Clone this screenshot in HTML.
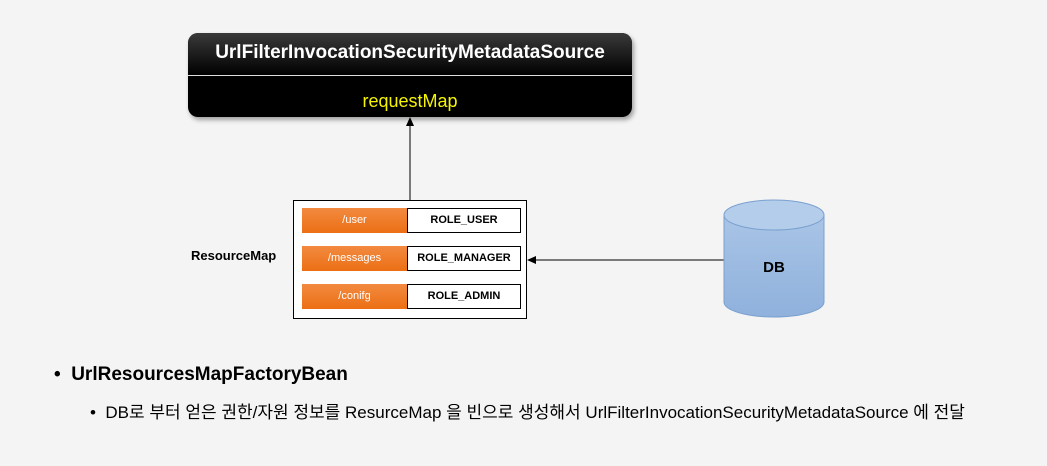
<!DOCTYPE html>
<html><head><meta charset="utf-8"><style>
body{margin:0;width:1047px;height:466px;background:#f4f4f4;position:relative;overflow:hidden;font-family:"Liberation Sans","Noto Sans CJK KR",sans-serif}
.a{position:absolute}
.top{left:188px;top:33px;width:444px;height:84px;border-radius:10px;background:#000;box-shadow:2px 3px 5px rgba(0,0,0,.35);overflow:hidden}
.th{height:42px;background:linear-gradient(#3a3a3a,#000);border-bottom:1px solid #ddd;color:#fff;font-weight:bold;font-size:19px;text-align:center;line-height:40px}
.tb{color:#f5f500;font-size:18px;text-align:center;line-height:50px}
.o{position:absolute;left:302px;width:105px;height:25px;background:linear-gradient(#f28a40,#ec6f14);color:#fff;font-size:11px;text-align:center;line-height:25px}
.w{position:absolute;left:407px;width:112px;height:23px;border:1px solid #000;background:#fff;font-size:11px;font-weight:bold;text-align:center;line-height:23px}
</style></head><body>
<div class="a top"><div class="th">UrlFilterInvocationSecurityMetadataSource</div><div class="tb">requestMap</div></div>
<div class="a" style="left:293px;top:200px;width:232px;height:117px;border:1px solid #000;background:#fff"></div>
<div class="o" style="top:208px">/user</div><div class="w" style="top:208px">ROLE_USER</div>
<div class="o" style="top:246px">/messages</div><div class="w" style="top:246px">ROLE_MANAGER</div>
<div class="o" style="top:284px">/conifg</div><div class="w" style="top:284px">ROLE_ADMIN</div>
<div class="a" style="left:191px;top:248px;font-size:13px;font-weight:bold">ResourceMap</div>
<svg class="a" style="left:0;top:0" width="1047" height="466">
<line x1="410" y1="200" x2="410" y2="125" stroke="#000" stroke-width="1"/>
<polygon points="410,117 406,126 414,126" fill="#000"/>
<line x1="724" y1="260" x2="535" y2="260" stroke="#000" stroke-width="1"/>
<polygon points="527,260 536,256 536,264" fill="#000"/>
<defs><linearGradient id="g" x1="0" y1="0" x2="0" y2="1"><stop offset="0" stop-color="#a9c4e6"/><stop offset="1" stop-color="#8fb1dc"/></linearGradient></defs>
<path d="M724,215 L724,302 A50,15 0 0 0 824,302 L824,215" fill="url(#g)" stroke="#7aa0cf"/>
<ellipse cx="774" cy="215" rx="50" ry="15" fill="#b4cdeb" stroke="#7aa0cf"/>
<text x="774" y="272" font-size="15" font-weight="bold" text-anchor="middle" font-family="Liberation Sans">DB</text>
</svg>
<div class="a" style="left:54px;top:364px;font-size:19px;font-weight:bold">•&nbsp;&nbsp;UrlResourcesMapFactoryBean</div>
<div class="a" style="left:90px;top:398px;font-size:17px;white-space:nowrap">•&nbsp;&nbsp;DB로 부터 얻은 권한/자원 정보를 ResurceMap 을 빈으로 생성해서 UrlFilterInvocationSecurityMetadataSource 에 전달</div>
</body></html>
